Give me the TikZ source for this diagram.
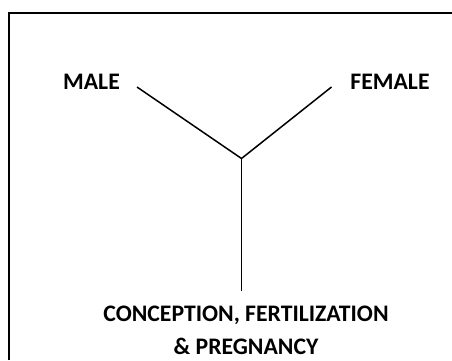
\documentclass[tikz,border=0pt]{standalone}
\usepackage{fontspec}
\setmainfont{Carlito}
\usetikzlibrary{positioning}

\begin{document}
\begin{tikzpicture}[x=1pt,y=-1pt,
    term/.style={font=\bfseries\fontsize{23.7}{33}\selectfont,inner sep=0pt},
    branch/.style={line width=1.5pt},
    frame/.style={line width=2.2pt}
  ]
  \useasboundingbox (0,0) rectangle (452,360);
  \draw[frame] (9,360) -- (9,13) -- (452,13);

  \node[term,anchor=base] (male) at (91.5,89) {MALE};
  \node[term,anchor=base] (female) at (390,89) {FEMALE};
  \coordinate (hub) at (241.5,158.5);
  \coordinate (m) at (137,87);
  \coordinate (f) at (331.5,87);
  \coordinate (low) at (241.5,291);
  \node[term,align=center,below=15pt of low,xshift=4.5pt] (conc)
    {CONCEPTION, FERTILIZATION\\\& PREGNANCY};

  \draw[branch] (m) -- (hub) -- (f);
  \draw[branch] (hub) -- (low);
\end{tikzpicture}
\end{document}
